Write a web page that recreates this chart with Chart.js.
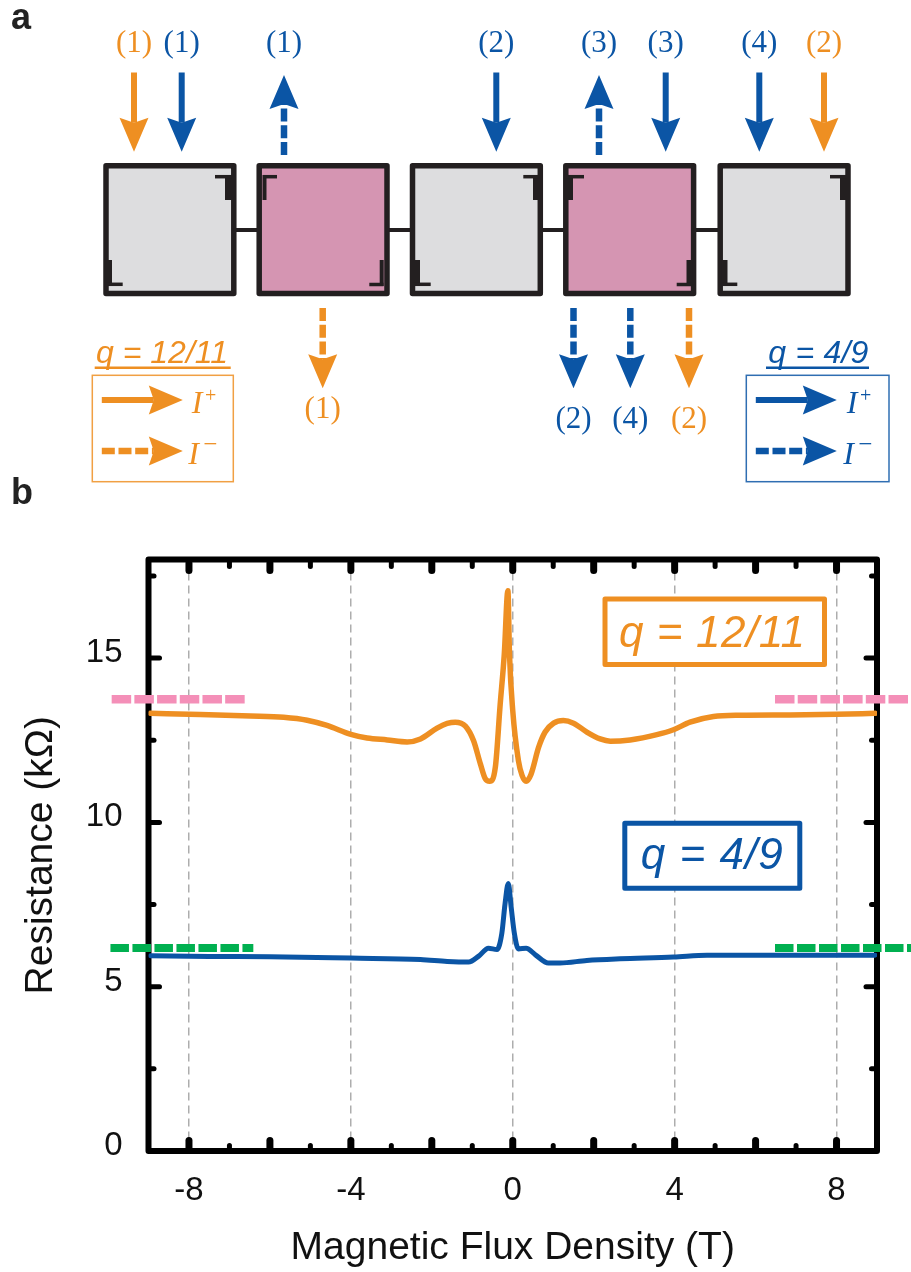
<!DOCTYPE html>
<html>
<head>
<meta charset="utf-8">
<title>Resistance vs magnetic flux density</title>
<script src="https://cdn.jsdelivr.net/npm/chart.js@4/dist/chart.umd.min.js"></script>
<style>
  html, body { margin: 0; padding: 0; background: #fff; }
  #wrap { position: relative; width: 911px; height: 1272px; overflow: hidden; }
  #plot, #sketch { position: absolute; left: 0; top: 0; }
  #sketch { pointer-events: none; }
</style>
</head>
<body>
<div id="wrap">
  <canvas id="plot" width="911" height="1272"></canvas>
  <svg id="sketch" width="911" height="1272" xmlns="http://www.w3.org/2000/svg"></svg>
</div>
<script>
// values: field in T, resistance in kOhm
var orangeField = [-8.95, -7.72, -6.48, -5.66, -5.08, -4.59, -4.0, -3.6, -3.1, -2.61, -2.28, -1.87, -1.62, -1.42, -1.17, -0.97, -0.8, -0.68, -0.57, -0.43, -0.31, -0.21, -0.12, -0.08, 0, 0.14, 0.23, 0.33, 0.45, 0.64, 0.8, 1.01, 1.25, 1.5, 1.83, 2.16, 2.41, 2.9, 3.56, 3.97, 4.38, 4.96, 5.62, 6.85, 8.0, 8.95];
var orangeR = [13.32, 13.28, 13.24, 13.2, 13.11, 12.95, 12.68, 12.57, 12.51, 12.45, 12.54, 12.87, 13.01, 13.05, 12.93, 12.49, 11.78, 11.33, 11.25, 11.68, 13.6, 15.1, 17.05, 15.1, 13.4, 11.88, 11.43, 11.25, 11.46, 12.29, 12.75, 13.02, 13.1, 13.02, 12.75, 12.54, 12.47, 12.51, 12.67, 12.82, 13.05, 13.22, 13.26, 13.27, 13.29, 13.32];

var blueField = [-8.95, -7.5, -6, -4, -2.28, -1.62, -1.09, -0.84, -0.6, -0.39, -0.27, -0.19, -0.11, -0.04, 0.04, 0.14, 0.33, 0.56, 0.88, 1.17, 1.83, 2.65, 3.97, 4.8, 6.03, 8.95];
var blueR = [5.94, 5.92, 5.91, 5.87, 5.83, 5.77, 5.75, 5.93, 6.17, 6.13, 6.62, 7.53, 8.14, 7.43, 6.62, 6.15, 6.17, 5.97, 5.72, 5.72, 5.8, 5.85, 5.9, 5.96, 5.96, 5.96];

var pinkLeftField = [-9.91, -6.6];
var pinkRightField = [6.48, 9.87];
var pinkR = [13.75, 13.75];
var greenLeftField = [-9.94, -6.41];
var greenRightField = [6.48, 10.2];
var greenR = [6.18, 6.18];

var xLabelTicks = [-8, -4, 0, 4, 8];
var yLabelTicks = [0, 5, 10, 15];
var xMajorTicks = [-8, -6, -4, -2, 0, 2, 4, 6, 8];
var xMinorTicks = [-7, -5, -3, -1, 1, 3, 5, 7];
var yMajorTicks = [5, 10, 15];
var yMinorTicks = [2.5, 7.5, 12.5, 17.5];

var ORANGE = "#EE8F22";
var BLUE = "#0B55A5";
var SANS = "'Liberation Sans', Arial, sans-serif";
var SERIF = "'Liberation Serif', 'Times New Roman', serif";

var pairs = function(xs, ys) {
  var out = [];
  for (var i = 0; i < xs.length; i++) {
    out.push({ x: xs[i], y: ys[i] });
  }
  return out;
};

var curve = function(xs, ys, color, width) {
  return {
    data: pairs(xs, ys),
    borderColor: color,
    borderWidth: width,
    cubicInterpolationMode: "monotone",
    borderCapStyle: "round",
    borderJoinStyle: "round",
    pointRadius: 0
  };
};

var limit = function(xs, ys, color, width, dash) {
  return {
    data: [{ x: xs[0], y: ys[0] }, { x: xs[1], y: ys[1] }],
    borderColor: color,
    borderWidth: width,
    borderDash: dash,
    pointRadius: 0,
    clip: false
  };
};

// frame and inward ticks, chart.js only draws ticks outwards
var framePlugin = {
  id: "frame",
  beforeDatasetsDraw: function(chart) {
    var c = chart.ctx, a = chart.chartArea, xs = chart.scales.x, ys = chart.scales.y;
    c.save();
    c.strokeStyle = "#000";
    c.lineJoin = "round";
    c.lineCap = "round";

    var tick = function(x1, y1, x2, y2, w) {
      c.lineWidth = w;
      c.beginPath();
      c.moveTo(x1, y1);
      c.lineTo(x2, y2);
      c.stroke();
    };
    xMajorTicks.forEach(function(v) {
      var p = xs.getPixelForValue(v);
      tick(p, a.bottom - 3.5, p, a.bottom - 10.5, 7);
      tick(p, a.top + 3.5, p, a.top + 11, 7);
    });
    xMinorTicks.forEach(function(v) {
      var p = xs.getPixelForValue(v);
      tick(p, a.bottom - 2.5, p, a.bottom - 5.5, 5);
      tick(p, a.top + 2.5, p, a.top + 7, 5);
    });
    yMajorTicks.forEach(function(v) {
      var p = ys.getPixelForValue(v);
      tick(a.left + 2.5, p, a.left + 11, p, 5);
      tick(a.right - 2.5, p, a.right - 11, p, 5);
    });
    yMinorTicks.forEach(function(v) {
      var p = ys.getPixelForValue(v);
      tick(a.left + 2.5, p, a.left + 5.5, p, 5);
      tick(a.right - 2.5, p, a.right - 5.5, p, 5);
    });

    c.lineWidth = 6;
    c.strokeRect(a.left, a.top, a.right - a.left, a.bottom - a.top);
    c.restore();
  }
};

new Chart(document.getElementById("plot"), {
  type: "line",
  data: {
    datasets: [
      curve(orangeField, orangeR, ORANGE, 5.5),
      curve(blueField, blueR, BLUE, 5),
      limit(pinkLeftField, pinkR, "#F48FB8", 8.5, [19.5, 3.2]),
      limit(pinkRightField, pinkR, "#F48FB8", 8.5, [19.5, 3.2]),
      limit(greenLeftField, greenR, "#00B050", 8, [18.5, 3.5]),
      limit(greenRightField, greenR, "#00B050", 8, [18.5, 3.5])
    ]
  },
  plugins: [framePlugin],
  options: {
    responsive: false,
    animation: false,
    events: [],
    layout: { padding: { top: 559.5, right: 34, left: 0, bottom: 0 } },
    plugins: { legend: { display: false }, tooltip: { enabled: false } },
    scales: {
      x: {
        type: "linear",
        min: -9,
        max: 9,
        afterBuildTicks: function(scale) {
          scale.ticks = xLabelTicks.map(function(v) { return { value: v }; });
        },
        afterFit: function(scale) { scale.height = 121; },
        grid: { color: "#ADADAD", lineWidth: 1.5, drawTicks: false },
        border: { display: false, dash: [8, 5] },
        ticks: {
          color: "#111",
          padding: 20,
          maxRotation: 0,
          autoSkip: false,
          font: { family: SANS, size: 33 }
        },
        title: {
          display: true,
          text: "Magnetic Flux Density (T)",
          color: "#111",
          padding: { top: 2, bottom: 0 },
          font: { family: SANS, size: 39 }
        }
      },
      y: {
        min: 0,
        max: 18,
        afterBuildTicks: function(scale) {
          scale.ticks = yLabelTicks.map(function(v) { return { value: v }; });
        },
        afterFit: function(scale) { scale.width = 148.5; },
        grid: { display: false, drawTicks: false },
        border: { display: false },
        ticks: {
          color: "#111",
          padding: 26,
          labelOffset: -5,
          font: { family: SANS, size: 33 }
        },
        title: {
          display: true,
          text: "Resistance (k\u03A9)",
          color: "#111",
          padding: { top: 18, bottom: 0 },
          font: { family: SANS, size: 39 }
        }
      }
    }
  }
});

// panel a and the boxed q labels live in the svg on top of the canvas
var svg = document.getElementById("sketch");

var el = function(name, attrs, text) {
  var n = document.createElementNS("http://www.w3.org/2000/svg", name);
  for (var k in attrs) n.setAttribute(k, attrs[k]);
  if (text) n.textContent = text;
  svg.appendChild(n);
  return n;
};

var label = function(str, x, y, color, family, size, extra) {
  var a = { x: x, y: y, fill: color, "font-family": family, "font-size": size };
  for (var k in extra) a[k] = extra[k];
  return el("text", a, str);
};

var line = function(x1, y1, x2, y2, color, w, dash) {
  var a = { x1: x1, y1: y1, x2: x2, y2: y2, stroke: color, "stroke-width": w };
  if (dash) a["stroke-dasharray"] = dash;
  el("line", a);
};

// straight arrow from tail to tip, barbed head 34 long and 28 wide
var arrow = function(x1, y1, x2, y2, color, dashed) {
  var len = Math.sqrt((x2 - x1) * (x2 - x1) + (y2 - y1) * (y2 - y1));
  var ux = (x2 - x1) / len, uy = (y2 - y1) / len;
  var bx = x2 - ux * 34, by = y2 - uy * 34;
  var nx = x2 - ux * 29, ny = y2 - uy * 29;
  line(x1, y1, nx, ny, color, dashed ? 6.5 : 6, dashed ? "13 3.7" : null);
  var pts = [
    [x2, y2],
    [bx - uy * 14.5, by + ux * 14.5],
    [nx, ny],
    [bx + uy * 14.5, by - ux * 14.5]
  ];
  el("polygon", {
    points: pts.map(function(p) { return p.join(","); }).join(" "),
    fill: color
  });
};

var GREY = "#DDDDDF", MAUVE = "#D595B2", INK = "#231F20";
var boxes = [
  [106, GREY], [259.2, MAUVE], [412.5, GREY], [565.8, MAUVE], [720.2, GREY]
];
var BOX_W = 127.8;

for (var i = 0; i < boxes.length - 1; i++) {
  line(boxes[i][0] + BOX_W, 230, boxes[i + 1][0], 230, INK, 4);
}
boxes.forEach(function(b) {
  el("rect", {
    x: b[0], y: 165.8, width: BOX_W, height: 127.8,
    fill: b[1], stroke: INK, "stroke-width": 5.5, "stroke-linejoin": "round"
  });
});

// contact corner marks: vertical bar x, width, then horizontal end
var corner = function(vx, vw, y1, y2, hy, hx1, hx2) {
  line(vx, y1, vx, y2, INK, vw);
  line(hx1, hy, hx2, hy, INK, 3.5);
};
corner(228.5, 7, 175, 200, 176.7, 215, 232);
corner(108.5, 7, 260, 286, 284.3, 106, 122.7);
corner(264.5, 4, 175, 200, 176.7, 263, 277);
corner(381.7, 4, 260, 286, 284.5, 369.3, 383.5);
corner(536.5, 7, 175, 200, 176.7, 523.3, 540);
corner(416.5, 7, 260, 286, 284.3, 413, 430.7);
corner(569.5, 7, 175, 200, 176.7, 566, 584);
corner(689.5, 6, 260, 286, 284.5, 676.7, 692);
corner(843.5, 7, 175, 200, 176.7, 830, 847);
corner(724.5, 6, 260, 286, 284.3, 722, 737.3);

// top arrows: x, colour, label, up
var topArrows = [
  [134, ORANGE, "(1)", false],
  [181.7, BLUE, "(1)", false],
  [284, BLUE, "(1)", true],
  [496.3, BLUE, "(2)", false],
  [599, BLUE, "(3)", true],
  [665.7, BLUE, "(3)", false],
  [759.3, BLUE, "(4)", false],
  [824, ORANGE, "(2)", false]
];
topArrows.forEach(function(a) {
  if (a[3]) arrow(a[0], 155, a[0], 75, a[1], true);
  else arrow(a[0], 72.5, a[0], 151.7, a[1], false);
  label(a[2], a[0], 51.7, a[1], SERIF, 31, { "text-anchor": "middle" });
});

var bottomArrows = [
  [322.7, ORANGE, "(1)", 418.3],
  [573.5, BLUE, "(2)", 428.3],
  [630.3, BLUE, "(4)", 428.3],
  [689, ORANGE, "(2)", 428.3]
];
bottomArrows.forEach(function(a) {
  arrow(a[0], 308, a[0], 388.3, a[1], true);
  label(a[2], a[0], a[3], a[1], SERIF, 31, { "text-anchor": "middle" });
});

// small legends under the squares
var legendBox = function(x, w, titleText, titleX, titleW, ulX, ulW, color, shift, minusShift) {
  label(titleText, titleX, 363.3, color, SANS, 32, {
    "font-style": "italic", textLength: titleW, lengthAdjust: "spacing"
  });
  line(ulX, 367.7, ulX + ulW, 367.7, color, 2.5);
  el("rect", {
    x: x, y: 375.3, width: w, height: 106.4,
    fill: "none", stroke: color, "stroke-width": 1.5, "stroke-opacity": 0.85
  });
  arrow(x + 9.5, 400, x + 90.5, 400, color, false);
  arrow(x + 9.5, 451, x + 90.5, 451, color, true);
  label("I", x + shift, 412.7, color, SERIF, 32, { "font-style": "italic" });
  label("+", x + shift + 19, 402, color, SERIF, 20, { "text-anchor": "middle" });
  label("I", x + minusShift, 464, color, SERIF, 32, { "font-style": "italic" });
  label("\u2212", x + minusShift + 22, 452, color, SERIF, 25, { "text-anchor": "middle" });
};
legendBox(92.3, 141, "q = 12/11", 96, 132, 94.7, 136, ORANGE, 99.4, 96);
legendBox(746.3, 142.7, "q = 4/9", 768.3, 100, 766, 103, BLUE, 100.4, 97);

// boxed labels inside the plot
var plotTag = function(x, y, w, h, str, tx, ty, tw, color) {
  el("rect", {
    x: x, y: y, width: w, height: h, fill: "#fff",
    stroke: color, "stroke-width": 5, "stroke-linejoin": "round"
  });
  label(str, tx, ty, color, SANS, 44, {
    "font-style": "italic", textLength: tw, lengthAdjust: "spacing"
  });
};
plotTag(605, 599, 219.5, 65.5, "q = 12/11", 619, 646.7, 186, ORANGE);
plotTag(624.8, 823.2, 175, 65, "q = 4/9", 640.7, 869, 142, BLUE);

label("a", 11, 29, "#222", SANS, 36, { "font-weight": "bold" });
label("b", 11, 504, "#222", SANS, 36, { "font-weight": "bold" });
</script>
</body>
</html>
